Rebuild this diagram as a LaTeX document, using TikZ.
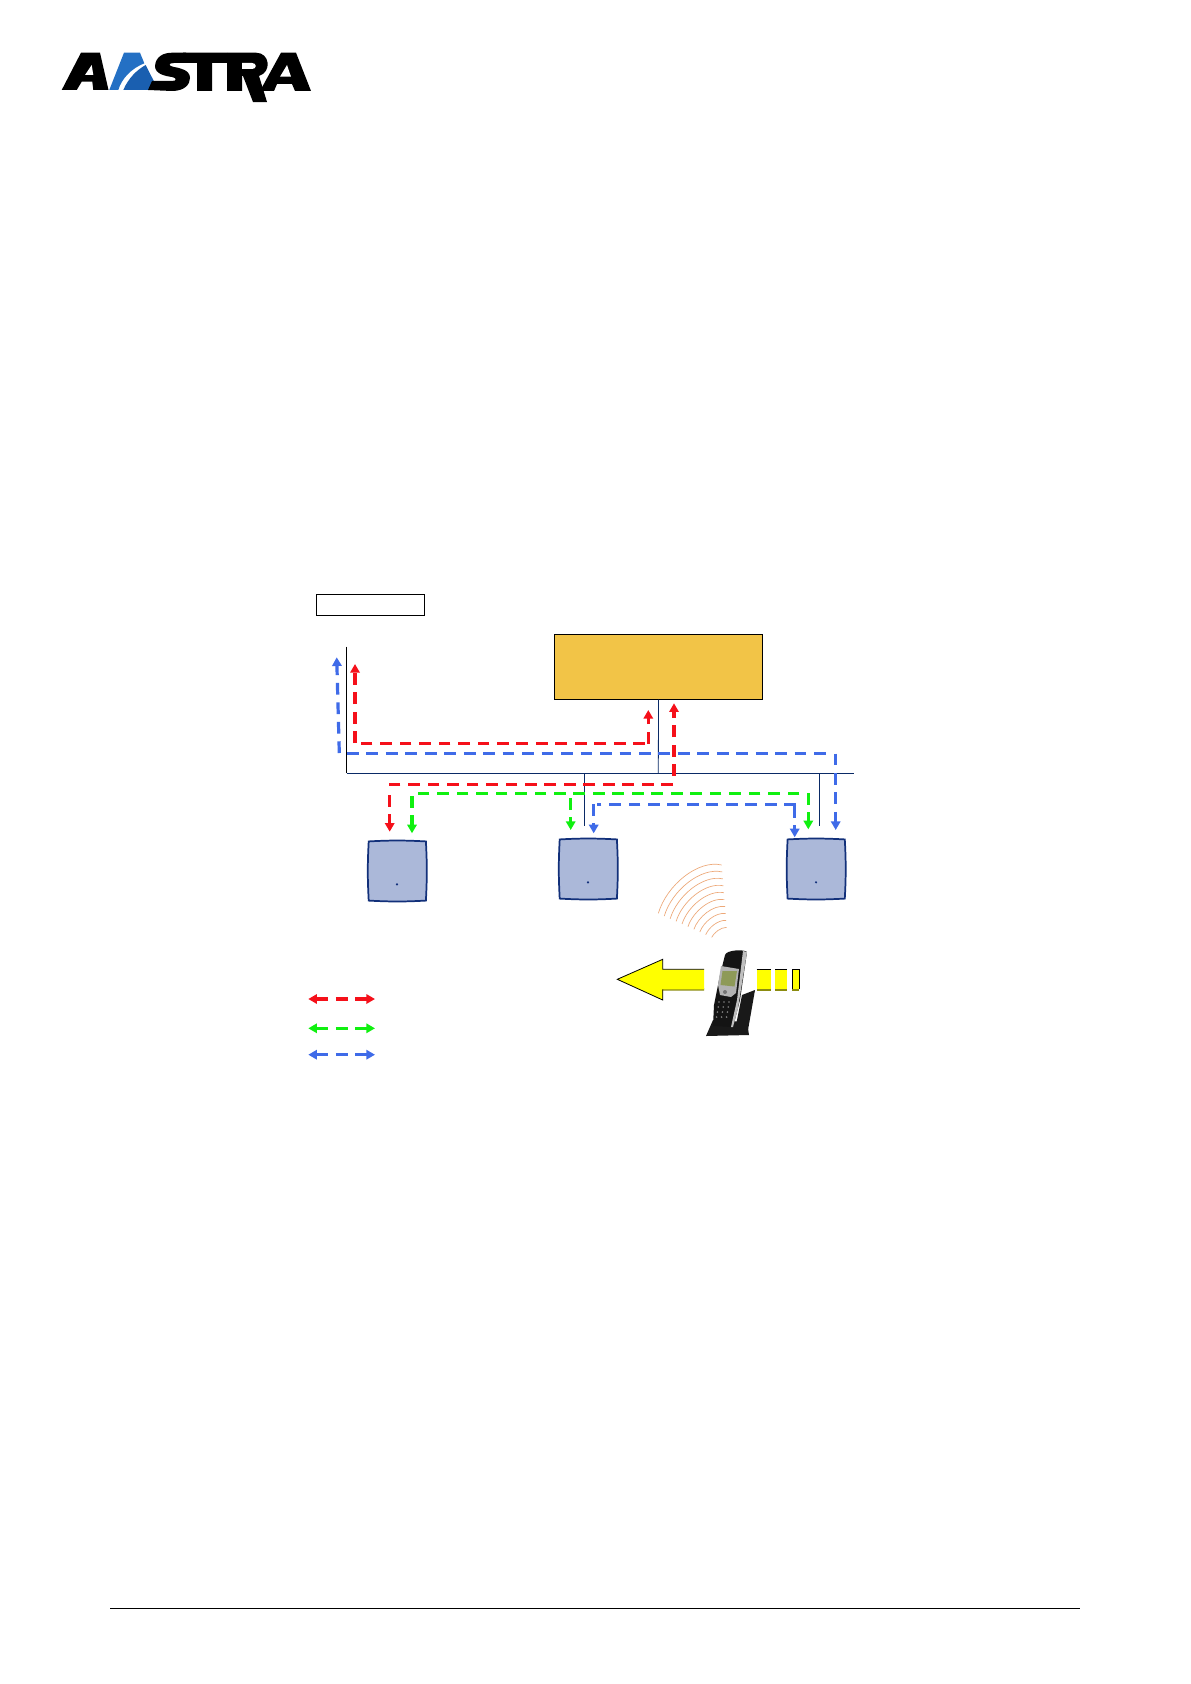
\documentclass[tikz,border=0pt]{standalone}
\usepackage{xcolor}
\usepackage{tikz}
\usetikzlibrary{arrows.meta,positioning}
\definecolor{busnavy}{HTML}{0A2A66}
\definecolor{flowred}{HTML}{F5101A}
\definecolor{flowgreen}{HTML}{10F010}
\definecolor{flowblue}{HTML}{3F6BE8}
\definecolor{pbxgold}{HTML}{F2C447}
\definecolor{apfill}{HTML}{ABB8D9}
\definecolor{apedge}{HTML}{12307A}
\definecolor{waveorange}{HTML}{EDA878}
\definecolor{logoblue}{HTML}{1A5FB0}
\definecolor{logosky}{HTML}{2470C4}
\definecolor{movingyellow}{HTML}{FFFF00}
\definecolor{movingshade}{HTML}{8C8C10}
\definecolor{screengreen}{HTML}{8E9A58}
\tikzset{
  flow/.style={line width=2.4pt, dash pattern=on 8.8pt off 5.8pt},
  flowtip/.style={-{Triangle[length=6.5pt,width=7pt]}},
  bothtips/.style={{Triangle[length=6.5pt,width=7pt]}-{Triangle[length=6.5pt,width=7pt]}},
  busline/.style={busnavy, line width=0.6pt},
  apbox/.style={minimum width=42.5pt, minimum height=44pt, inner sep=0pt},
}
\begin{document}
\begin{tikzpicture}[x=0.75pt, y=-0.75pt, >=Latex]
  \useasboundingbox (0,0) rectangle (1190,1684);
  \fill[white] (0,0) rectangle (1190,1684);

  % logo
  \fill[black] (61.7,90) -- (81,52.7) -- (100,52.7) -- (108.5,90) -- (93.3,90) -- (92.3,81.7) -- (81.7,81.7) -- (76.7,90) -- cycle;
  \fill[white] (85,75) -- (93.3,75) -- (91.7,65) -- cycle;
  \fill[logosky] (109.3,90) -- (124,52.7) -- (140,52.7) -- (144.3,63.3) .. controls (131.7,68.3) and (121.7,78.3) .. (118.3,90) -- cycle;
  \fill[logoblue] (123.3,90) .. controls (128.3,78.3) and (136.7,70) .. (145.7,65) -- (158.3,90) -- cycle;
  \fill[black] (186,52.7) -- (172,52.7) .. controls (158,52.7) and (155,62) .. (155,66) .. controls (155,74) and (165,76) .. (172,77) .. controls (177,78) and (177,81) .. (172,81) -- (152,81) -- (148,90) -- (172,91) .. controls (185,91) and (190,84) .. (190,78) .. controls (190,70) and (180,68) .. (174,67) .. controls (168,66) and (168,63) .. (174,63) -- (186,63) -- cycle;
  \fill[black] (183,52.7) -- (227,52.7) -- (227,63) -- (212,63) -- (212,91) -- (197,91) -- (197,63) -- (183,63) -- cycle;
  \fill[black] (227,52.7) -- (256,52.7) .. controls (270,52.7) and (272,72) .. (259,76) -- (267,102) -- (253,102) -- (243,76) -- (242,76) -- (242,91) -- (227,91) -- cycle;
  \fill[white] (242,63) -- (252,63) .. controls (257,63) and (257,69) .. (252,69) -- (242,69) -- cycle;
  \fill[black] (260,91) -- (281,52.7) -- (296,52.7) -- (311,91) -- (295,91) -- (292,84) -- (277,84) -- (274,91) -- cycle;
  \fill[white] (280,76.7) -- (291,76.7) -- (287,65) -- cycle;

  % boxes
  \node[draw, fill=white, line width=0.6pt, minimum width=81pt, minimum height=15.7pt, inner sep=0pt] (topbox) at (370.5,605) {};
  \node[draw, fill=pbxgold, line width=0.8pt, minimum width=155.5pt, minimum height=48.5pt, inner sep=0pt] (pbx) at (658.5,666.7) {};
  \draw[line width=1.3pt] (pbx.south west) -- (pbx.south east);
  \node[apbox] (ap1) at (397.3,871) {};
  \node[apbox] (ap2) at (588.3,869) {};
  \node[apbox] (ap3) at (816.2,869) {};
  \foreach \ap in {ap1,ap2,ap3}{
    \draw[apedge, fill=apfill, line width=1.3pt] (\ap.north west) to[bend left=3] (\ap.north east) to[bend left=3] (\ap.south east) to[bend left=3] (\ap.south west) to[bend left=3] cycle;
  }
  \fill[apedge] (397,884.3) circle (1.2);
  \fill[apedge] (588,882.3) circle (1.2);
  \fill[apedge] (816,882.3) circle (1.2);

  % bus
  \coordinate (bustop) at (346.7,646.7);
  \coordinate (buscorner) at (346.7,773.3);
  \coordinate (busend) at (854.3,773.3);
  \coordinate (tappbx) at (658.3,773.3);
  \coordinate (tapap2) at (584.3,773.3);
  \coordinate (endap2) at (584.3,825.7);
  \coordinate (tapap3) at (819.3,773.3);
  \coordinate (endap3) at (819.3,825.7);
  \draw[line width=0.6pt] (bustop) -- (buscorner);
  \draw[busline] (buscorner) -- (busend);
  \draw[busline] (pbx.south) -- (tappbx);
  \draw[busline] (tapap2) -- (endap2);
  \draw[busline] (tapap3) -- (endap3);

  % red flows
  \coordinate (redalow) at (648.3,743.7);
  \coordinate (redatip) at (648.3,710);
  \coordinate (redbright) at (645,743.7);
  \coordinate (redbleft) at (360.5,743.7);
  \coordinate (redclow) at (355,743);
  \coordinate (redctip) at (355,664);
  \coordinate (reddlow) at (674,776);
  \coordinate (reddtip) at (674,703.3);
  \coordinate (rederight) at (673,784.3);
  \coordinate (redeleft) at (388.7,784.3);
  \coordinate (redftop) at (389.7,795);
  \coordinate (redftip) at (389.7,831.7);
  \draw[flow, flowtip, flowred] (redalow) -- (redatip);
  \draw[flow, flowred] (redbright) -- (redbleft);
  \draw[flow, flowtip, flowred] (redclow) -- (redctip);
  \draw[flow, flowtip, flowred] (reddlow) -- (reddtip);
  \draw[flow, flowred] (rederight) -- (redeleft);
  \draw[flow, flowtip, flowred] (redftop) -- (redftip);

  % green flows
  \coordinate (greenright) at (799.3,793.3);
  \coordinate (greenleft) at (416.7,793.3);
  \coordinate (greenatop) at (412,796);
  \coordinate (greenatip) at (412,833.3);
  \coordinate (greenbtop) at (570.7,798);
  \coordinate (greenbtip) at (570.7,830);
  \coordinate (greenctop) at (808.3,793);
  \coordinate (greenctip) at (808.3,829.3);
  \draw[flow, flowgreen] (greenright) -- (greenleft);
  \draw[flow, flowtip, flowgreen] (greenatop) -- (greenatip);
  \draw[flow, flowtip, flowgreen] (greenbtop) -- (greenbtip);
  \draw[flow, flowtip, flowgreen] (greenctop) -- (greenctip);

  % blue flows
  \coordinate (bluealow) at (339.3,753);
  \coordinate (blueatip) at (336.7,657.3);
  \coordinate (bluebleft) at (347,753.7);
  \coordinate (bluebright) at (826.7,753.7);
  \coordinate (bluectop) at (835.7,753.5);
  \coordinate (bluectip) at (835.7,830);
  \coordinate (bluedright) at (796,804.3);
  \coordinate (bluedleft) at (597,804.3);
  \coordinate (blueetop) at (593.7,804);
  \coordinate (blueetip) at (593.7,833.3);
  \coordinate (blueftop) at (794.7,806);
  \coordinate (blueftip) at (794.7,837.3);
  \draw[flow, flowtip, flowblue] (bluealow) -- (blueatip);
  \draw[flow, flowblue] (bluebleft) -- (bluebright);
  \draw[flow, flowtip, flowblue] (bluectop) -- (bluectip);
  \draw[flow, flowblue] (bluedright) -- (bluedleft);
  \draw[flow, flowtip, flowblue] (blueetop) -- (blueetip);
  \draw[flow, flowtip, flowblue] (blueftop) -- (blueftip);

  % radio waves
  \foreach \t in {0,1,...,9}{
    \pgfmathsetmacro\ax{600+(175+\t*160/9)/3}
    \pgfmathsetmacro\ay{850+(190+\t*72/9)/3}
    \pgfmathsetmacro\bx{600+(200+\t*142/9)/3}
    \pgfmathsetmacro\by{850+(105+\t*143/9)/3}
    \pgfmathsetmacro\cx{600+(295+\t*67/9)/3}
    \pgfmathsetmacro\cy{850+(28+\t*204/9)/3}
    \pgfmathsetmacro\dx{600+(365+\t*15/9)/3}
    \pgfmathsetmacro\dy{850+(45+\t*187/9)/3}
    \draw[waveorange, line width=0.5pt] (\ax,\ay) .. controls (\bx,\by) and (\cx,\cy) .. (\dx,\dy);
  }

  % moving arrow
  \fill[movingshade] (662.7,1000.6) -- (662.7,990.5) -- (704,990.5) -- (704,988) -- (660,988) -- cycle;
  \fill[movingyellow] (617.3,979.3) -- (662.7,959.3) -- (662.7,969.3) -- (704,969.3) -- (704,989.3) -- (662.7,989.3) -- (662.7,1000) -- cycle;
  \draw[line width=0.6pt] (704,969.3) -- (662.7,969.3) -- (662.7,959.3) -- (617.3,979.3) -- (662.7,1000) -- (662.7,989.3);
  \foreach \xa/\xb in {756.7/770.7,775.3/787.3,792.3/799}{
    \fill[movingyellow] (\xa,969.3) rectangle (\xb,989.3);
    \fill[movingshade] (\xa,989.3) rectangle (\xb,990.5);
    \draw[line width=0.6pt] (\xa,969.3) -- (\xb,969.3);
  }
  \draw[line width=0.5pt] (792.3,969.3) -- (792.3,989.3);
  \draw[line width=0.5pt] (799,969.3) -- (799,989.3);

  % handset
  \fill[black!90] (742,995) -- (755,990) -- (748,1030) -- (735,1030) -- cycle;
  \fill[black!90] (713,1020) -- (747,1022) -- (749,1035) -- (706,1036) -- cycle;
  \fill[black!92] (725,955) .. controls (726,950) and (744,949) .. (747,952) -- (740,1000) -- (733,1027) -- (713,1026) -- (714,1005) -- (720,975) -- cycle;
  \fill[black!25] (743,951) -- (747,952) -- (738,1008) -- (733,1027) -- (731,1027) -- (737,1000) -- cycle;
  \fill[black!30] (721,966) -- (739,969) -- (736,993) -- (731,997) -- (720,995) -- (718,985) -- cycle;
  \fill[screengreen] (722.5,971) -- (737,971) -- (734.5,986.5) -- (720.5,985) -- cycle;
  \fill[black!55] (725,992) circle (2);
  \foreach \ky in {0,1,2,3}{
    \foreach \kx in {0,1,2}{
      \fill[black!50] ({719+\kx*5-\ky*0.8},{1002+\ky*5}) circle (0.9);
    }
  }

  % legend
  \coordinate (legredleft) at (308.3,999);
  \coordinate (legredright) at (375,999);
  \coordinate (leggreenleft) at (308.3,1028.3);
  \coordinate (leggreenright) at (375,1028.3);
  \coordinate (legblueleft) at (308.3,1054.7);
  \coordinate (legblueright) at (375,1054.7);
  \draw[flow, bothtips, flowred] (legredleft) -- (legredright);
  \draw[flow, bothtips, flowgreen] (leggreenleft) -- (leggreenright);
  \draw[flow, bothtips, flowblue] (legblueleft) -- (legblueright);

  % footer
  \coordinate (footleft) at (110,1608);
  \coordinate (footright) at (1080,1608);
  \draw[line width=0.7pt] (footleft) -- (footright);
\end{tikzpicture}
\end{document}
